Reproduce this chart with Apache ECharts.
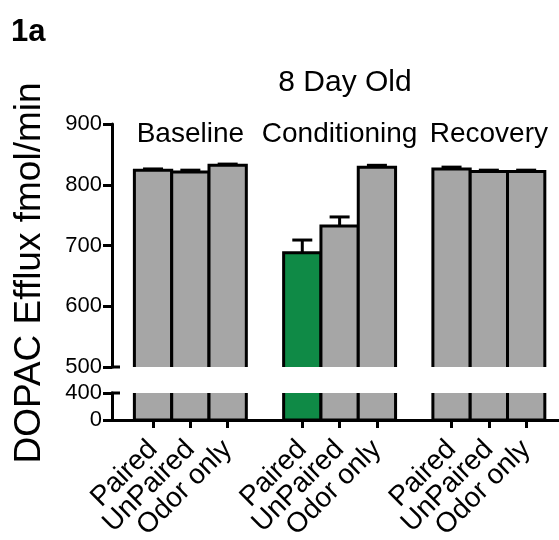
<!DOCTYPE html>
<html><head><meta charset="utf-8">
<script src="https://cdn.jsdelivr.net/npm/echarts@6/dist/echarts.min.js"></script>
<style>html,body{margin:0;padding:0;background:#fff}#c{width:559px;height:540px}</style>
</head><body><div id="c"></div>
<script>
// ---- data ----
const panelLabel = '1a';
const chartTitle = '8 Day Old';
const yAxisTitle = 'DOPAC Efflux fmol/min';
const groups = ['Baseline', 'Conditioning', 'Recovery'];
const categories = ['Paired', 'UnPaired', 'Odor only'];
const baselineMean = [824, 821, 832];
const conditioningMean = [688, 732, 829];
const recoveryMean = [826, 822, 822];
const baselineSem = [2, 3, 2];
const conditioningSem = [21, 15, 3];
const recoverySem = [3, 2, 2];
const yTicksTop = [500, 600, 700, 800, 900];
const yTicksBottom = [0, 400];
const highlighted = { group: 'Conditioning', category: 'Paired' };

// ---- build ----
const FONT = "'Liberation Sans', Arial, Helvetica, sans-serif";
const GRAY = '#a6a6a6';
const GREEN = '#0f8a46';
const means = [baselineMean, conditioningMean, recoveryMean];
const sems = [baselineSem, conditioningSem, recoverySem];
const slot = categories.length + 1;
const rows = [];
const tickVals = [];
const tickNames = {};
groups.forEach((g, gi) => categories.forEach((c, ci) => {
  const x = gi * slot + ci;
  tickVals.push(x);
  tickNames[x] = c;
  rows.push([x, means[gi][ci], sems[gi][ci], (g === highlighted.group && c === highlighted.category) ? 1 : 0]);
}));
const groupCenters = groups.map((g, gi) => [gi * slot + (categories.length - 1) / 2, yTicksTop[yTicksTop.length - 1]]);
const xLabelData = tickVals.map(v => [v, 0]);

const xMin = -1.1, xMax = (groups.length - 1) * slot + categories.length - 1 + 0.88;

function barItem(params, api) {
  const x = api.value(0), v = api.value(1);
  const w = api.size([1, 0])[0];
  const top = api.coord([x, v]);
  const base = api.coord([x, 0]);
  return {
    type: 'rect',
    shape: { x: top[0] - w / 2, y: top[1], width: w, height: base[1] - top[1] },
    style: { fill: api.value(3) ? GREEN : GRAY, stroke: '#000', lineWidth: 3 }
  };
}
function errItem(params, api) {
  const x = api.value(0), v = api.value(1), e = api.value(2);
  const p0 = api.coord([x, v]);
  const p1 = api.coord([x, v + e]);
  const cw = 20;
  return {
    type: 'group',
    children: [
      { type: 'line', shape: { x1: p0[0], y1: p0[1], x2: p1[0], y2: p1[1] }, style: { stroke: '#000', lineWidth: 3 } },
      { type: 'line', shape: { x1: p1[0] - cw / 2, y1: p1[1], x2: p1[0] + cw / 2, y2: p1[1] }, style: { stroke: '#000', lineWidth: 3 } }
    ]
  };
}
function groupLabelItem(params, api) {
  const p = api.coord([api.value(0), api.value(1)]);
  return {
    type: 'text',
    x: p[0], y: p[1] + 10,
    style: {
      text: groups[params.dataIndex], fill: '#000', font: '28px ' + FONT,
      align: 'center', verticalAlign: 'middle', textAlign: 'center', textVerticalAlign: 'middle'
    }
  };
}
function xLabelItem(params, api) {
  const v = api.value(0);
  const p = api.coord([v, api.value(1)]);
  return {
    type: 'text',
    x: p[0], y: p[1] + 25, rotation: Math.PI / 4,
    style: {
      text: tickNames[v], fill: '#000', font: '28px ' + FONT,
      align: 'right', verticalAlign: 'middle', textAlign: 'right', textVerticalAlign: 'middle'
    }
  };
}
// small horizontal break caps on the y axis at the cut edges
function capItem(params, api) {
  const p = api.coord([xMin, api.value(0)]);
  return {
    type: 'line',
    shape: { x1: p[0] - 1, y1: p[1], x2: p[0] + 8, y2: p[1] },
    style: { stroke: '#000', lineWidth: 3 }
  };
}

const axisLineStyle = { color: '#000', width: 3 };
const chart = echarts.init(document.getElementById('c'), null, { renderer: 'canvas' });
chart.setOption({
  animation: false,
  backgroundColor: '#fff',
  title: [
    { text: panelLabel, left: 6, top: 12, textStyle: { fontFamily: FONT, fontSize: 31, fontWeight: 'bold', color: '#000' } },
    { text: chartTitle, left: 340, top: 63, textAlign: 'center', textStyle: { fontFamily: FONT, fontSize: 30, fontWeight: 'normal', color: '#000' } }
  ],
  graphic: [
    {
      type: 'text', x: 30, y: 273, rotation: Math.PI / 2,
      style: { text: yAxisTitle, fill: '#000', font: '37px ' + FONT, align: 'center', verticalAlign: 'middle', textAlign: 'center', textVerticalAlign: 'middle' }
    }
  ],
  grid: [
    { left: 112, top: 124, width: 447, height: 243 },
    { left: 112, top: 393, width: 447, height: 27 }
  ],
  xAxis: [
    { gridIndex: 0, type: 'value', min: xMin, max: xMax, show: false },
    {
      gridIndex: 1, type: 'value', min: xMin, max: xMax,
      axisLine: { show: true, onZero: false, lineStyle: axisLineStyle },
      splitLine: { show: false },
      axisTick: { show: true, customValues: tickVals, length: 8, lineStyle: axisLineStyle },
      axisLabel: { show: false }
    }
  ],
  yAxis: [
    {
      gridIndex: 0, type: 'value', min: yTicksTop[0], max: yTicksTop[yTicksTop.length - 1], interval: 100,
      axisLine: { show: true, onZero: false, lineStyle: axisLineStyle },
      axisTick: { show: true, length: 9, lineStyle: axisLineStyle },
      splitLine: { show: false },
      axisLabel: { color: '#000', fontFamily: FONT, fontSize: 22, margin: 10 }
    },
    {
      gridIndex: 1, type: 'value', min: yTicksBottom[0], max: yTicksBottom[1], interval: 400,
      axisLine: { show: true, onZero: false, lineStyle: axisLineStyle },
      axisTick: { show: true, length: 9, lineStyle: axisLineStyle },
      splitLine: { show: false },
      axisLabel: { color: '#000', fontFamily: FONT, fontSize: 22, margin: 10 }
    }
  ],
  series: [
    { type: 'custom', xAxisIndex: 1, yAxisIndex: 1, clip: true, renderItem: barItem, data: rows, z: 2 },
    { type: 'custom', xAxisIndex: 0, yAxisIndex: 0, clip: true, renderItem: barItem, data: rows, z: 2 },
    { type: 'custom', xAxisIndex: 0, yAxisIndex: 0, clip: false, renderItem: errItem, data: rows, z: 3 },
    { type: 'custom', xAxisIndex: 0, yAxisIndex: 0, clip: false, renderItem: groupLabelItem, data: groupCenters, z: 4 },
    { type: 'custom', xAxisIndex: 1, yAxisIndex: 1, clip: false, renderItem: xLabelItem, data: xLabelData, z: 4 },
    { type: 'custom', xAxisIndex: 0, yAxisIndex: 0, clip: false, renderItem: capItem, data: [[yTicksTop[0]]], z: 5 },
    { type: 'custom', xAxisIndex: 1, yAxisIndex: 1, clip: false, renderItem: capItem, data: [[yTicksBottom[1]]], z: 5 }
  ]
});
</script></body></html>
